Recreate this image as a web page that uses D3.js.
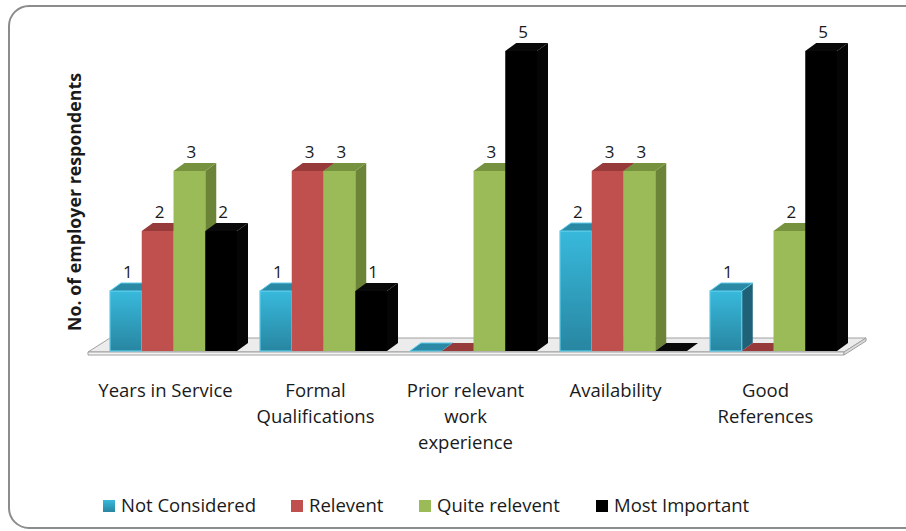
<!DOCTYPE html>
<html>
<head>
<meta charset="utf-8">
<script src="https://cdn.jsdelivr.net/npm/d3@7"></script>
<style>
  html, body { margin: 0; padding: 0; background: #fff; }
  svg { display: block; }
  text { font-family: "Open Sans", Lato, sans-serif; fill: #1a1a1a; }
</style>
</head>
<body>
<svg id="chart" width="906" height="531"></svg>
<script>
// Categories (line breaks mark how the axis labels wrap)
const categories = [
  "Years in Service",
  "Formal\nQualifications",
  "Prior relevant\nwork\nexperience",
  "Availability",
  "Good\nReferences"
];
const seriesNames = ["Not Considered", "Relevent", "Quite relevent", "Most Important"];

// Number of employer respondents per category
const notConsidered = [1, 1, 0, 2, 1];
const relevent      = [2, 3, 0, 3, 0];
const quiteRelevent = [3, 3, 3, 3, 2];
const mostImportant = [2, 1, 5, 0, 5];

const seriesValues = [notConsidered, relevent, quiteRelevent, mostImportant];

// Face colours for each series: front (top/bottom of gradient), top, side
const palette = [
  { front0: "#38b9dc", front1: "#2886a1", top: "#2a8aa6", side: "#1f6277", stroke: "#5ccbea" },
  { front0: "#c0504d", front1: "#c0504d", top: "#963b39", side: "#8a3634", stroke: null },
  { front0: "#9bbb59", front1: "#9bbb59", top: "#77923f", side: "#6b8438", stroke: null },
  { front0: "#000000", front1: "#000000", top: "#0a0a0a", side: "#050505", stroke: null }
];

const svg = d3.select("#chart");
const defs = svg.append("defs");
palette.forEach((p, i) => {
  const g = defs.append("linearGradient")
    .attr("id", "front" + i).attr("x1", 0).attr("y1", 0).attr("x2", 0).attr("y2", 1);
  g.append("stop").attr("offset", "0%").attr("stop-color", p.front0);
  g.append("stop").attr("offset", "100%").attr("stop-color", p.front1);
});

// Outer chart frame
svg.append("rect")
  .attr("x", 9).attr("y", 6).attr("width", 930).attr("height", 522)
  .attr("rx", 20).attr("ry", 20)
  .attr("fill", "#fff").attr("stroke", "#8c8c8c").attr("stroke-width", 2);

// Scales
const x0 = d3.scaleBand()
  .domain(categories)
  .range([98.5, 848.5])
  .paddingInner(23 / 150)
  .paddingOuter(23 / 300);

const x1 = d3.scaleBand()
  .domain(seriesNames)
  .range([0, x0.bandwidth()]);

const y = d3.scaleLinear().domain([0, 5]).range([351, 51]);

// Depth offset for the 3‑D look
const dx = 11, dy = 8;
const fdx = 22, fdy = 14;

// Floor slab
const floorL = 88, floorR = 844, floorY = 352, slab = 3;
const floor = svg.append("g");
floor.append("polygon")
  .attr("points", [[floorL, floorY], [floorR, floorY], [floorR + fdx, floorY - fdy], [floorL + fdx, floorY - fdy]].join(" "))
  .attr("fill", "#ececec").attr("stroke", "#a0a0a0").attr("stroke-width", 1);
floor.append("polygon")
  .attr("points", [[floorL, floorY], [floorR, floorY], [floorR, floorY + slab], [floorL, floorY + slab]].join(" "))
  .attr("fill", "#f4f4f4").attr("stroke", "#a0a0a0").attr("stroke-width", 1);
floor.append("polygon")
  .attr("points", [[floorR, floorY], [floorR + fdx, floorY - fdy], [floorR + fdx, floorY - fdy + slab], [floorR, floorY + slab]].join(" "))
  .attr("fill", "#dcdcdc").attr("stroke", "#a0a0a0").attr("stroke-width", 1);

// Bars, drawn left to right so each front face hides its neighbour's side face
const bars = svg.append("g");
const labels = svg.append("g");
categories.forEach((cat, ci) => {
  seriesNames.forEach((s, si) => {
    const v = seriesValues[si][ci];
    const p = palette[si];
    const xl = x0(cat) + x1(s);
    const w = x1.bandwidth();
    const yt = y(v), yb = y(0);
    const g = bars.append("g");
    if (v > 0) {
      // side face
      g.append("polygon")
        .attr("points", [[xl + w, yt], [xl + w + dx, yt - dy], [xl + w + dx, yb - dy], [xl + w, yb]].join(" "))
        .attr("fill", p.side);
      // front face
      g.append("rect")
        .attr("x", xl).attr("y", yt).attr("width", w).attr("height", yb - yt)
        .attr("fill", `url(#front${si})`)
        .attr("stroke", p.stroke || "none").attr("stroke-width", p.stroke ? 1.2 : 0);
    }
    // top face
    g.append("polygon")
      .attr("points", [[xl, yt], [xl + w, yt], [xl + w + dx, yt - dy], [xl + dx, yt - dy]].join(" "))
      .attr("fill", p.top)
      .attr("stroke", p.stroke || "none").attr("stroke-width", p.stroke ? 1 : 0);

    if (v > 0) {
      labels.append("text")
        .attr("x", xl + w / 2 + 2).attr("y", yt - 13)
        .attr("text-anchor", "middle")
        .attr("font-size", 17)
        .text(v);
    }
  });
});

// Category axis labels
const catLabels = svg.append("g");
categories.forEach(cat => {
  const lines = cat.split("\n");
  const t = catLabels.append("text")
    .attr("text-anchor", "middle")
    .attr("font-size", 18.5)
    .attr("x", x0(cat) + x0.bandwidth() / 2 - 8)
    .attr("y", 397);
  lines.forEach((ln, i) => {
    t.append("tspan")
      .attr("x", x0(cat) + x0.bandwidth() / 2 - 8)
      .attr("dy", i === 0 ? 0 : 26)
      .text(ln);
  });
});

// Value axis title
svg.append("text")
  .attr("transform", "translate(81,202) rotate(-90)")
  .attr("text-anchor", "middle")
  .attr("font-size", 17.8)
  .attr("font-weight", "bold")
  .text("No. of employer respondents");

// Legend
const legendX = [103, 291, 419, 596];
const legend = svg.append("g");
seriesNames.forEach((s, i) => {
  legend.append("rect")
    .attr("x", legendX[i]).attr("y", 500).attr("width", 12).attr("height", 12)
    .attr("fill", `url(#front${i})`);
  legend.append("text")
    .attr("x", legendX[i] + 18).attr("y", 512)
    .attr("font-size", 18.5)
    .text(s);
});
</script>
</body>
</html>
